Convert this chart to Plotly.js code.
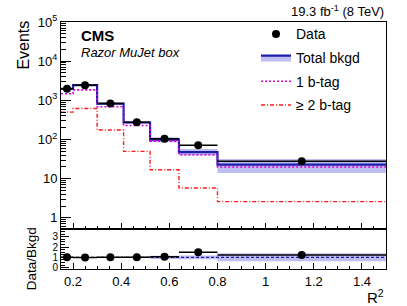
<!DOCTYPE html>
<html><head><meta charset="utf-8">
<script src="https://cdn.plot.ly/plotly-3.0.1.min.js"></script>
<style>html,body{margin:0;padding:0;background:#fff}#p{width:407px;height:306px}</style>
</head><body><div id="p"></div>
<script>
// R^2 bin edges and centers
const binEdges   = [0.15, 0.2, 0.3, 0.41, 0.52, 0.64, 0.8, 1.5];
const binCenters = [0.175, 0.25, 0.355, 0.465, 0.58, 0.72, 1.15];
const binHalfW   = [0.025, 0.05, 0.055, 0.055, 0.06, 0.08, 0.35];
// Events per bin
const dataVals  = [1990, 2430, 830, 277, 105, 72, 28];
const dataErr   = [45, 49, 29, 17, 10, 8.5, 5.3];
const bkgdVals  = [1960, 2440, 830, 272, 100, 48, 23];
const bkgdErr   = [60, 80, 30, 16, 15, 9, 9];
const oneBtag   = [1480, 1850, 690, 228, 91, 41, 20];
const twoBtag   = [500, 620, 175, 50, 17, 5.8, 2.6];
// Data / Bkgd ratio
const ratioVals    = [1.0, 0.99, 1.0, 1.01, 1.05, 1.5, 1.22];
const ratioErr     = [0.02, 0.02, 0.035, 0.06, 0.1, 0.18, 0.23];
const ratioBandErr = [0.03, 0.03, 0.04, 0.06, 0.15, 0.19, 0.39];
const ratioRef     = [1, 1, 1, 1, 1, 1, 1];
// axis ticks
const yTickVals = [1, 10, 100, 1000, 10000, 100000];
const yTickText = ['1', '10', '10<sup>2</sup>', '10<sup>3</sup>', '10<sup>4</sup>', '10<sup>5</sup>'];
const xTickVals = [0.2, 0.4, 0.6, 0.8, 1.0, 1.2, 1.4];
const xTickText = ['0.2', '0.4', '0.6', '0.8', '1', '1.2', '1.4'];
const rTickVals = [0, 1, 2, 3];

const step = a => a.concat([a[a.length - 1]]);
const lo = (v, e) => v.map((x, i) => x - e[i]);
const hi = (v, e) => v.map((x, i) => x + e[i]);

const minorLog = [];
for (let d = 0; d < 5; d++) for (let k = 2; k <= 9; k++) minorLog.push(k * Math.pow(10, d));
minorLog.push(0.6, 0.7, 0.8, 0.9);

const BAND = 'rgba(190,190,245,1)';
const BLUE = '#1e1ea8';
const FONT = 'Liberation Sans, Arial, Helvetica, sans-serif';

const traces = [
  // main pane
  {x: binEdges, y: step(lo(bkgdVals, bkgdErr)), xaxis: 'x2', yaxis: 'y', mode: 'lines',
   line: {shape: 'hv', width: 0}, showlegend: false, hoverinfo: 'skip', legendgroup: 'b'},
  {x: binEdges, y: step(bkgdVals), xaxis: 'x2', yaxis: 'y', mode: 'lines', name: 'Total bkgd',
   line: {shape: 'hv', width: 2.2, color: BLUE}, fill: 'tonexty', fillcolor: BAND, legendrank: 2, legendgroup: 'b'},
  {x: binEdges, y: step(hi(bkgdVals, bkgdErr)), xaxis: 'x2', yaxis: 'y', mode: 'lines',
   line: {shape: 'hv', width: 0}, fill: 'tonexty', fillcolor: BAND, showlegend: false, hoverinfo: 'skip', legendgroup: 'b'},
  {x: binEdges, y: step(oneBtag), xaxis: 'x2', yaxis: 'y', mode: 'lines', name: '1 b-tag',
   line: {shape: 'hv', width: 1.6, color: '#e000e0', dash: '2px,2px'}, legendrank: 3, legendgroup: 'c'},
  {x: binEdges, y: step(twoBtag), xaxis: 'x2', yaxis: 'y', mode: 'lines', name: '\u2265 2 b-tag',
   line: {shape: 'hv', width: 1.4, color: '#ff1a1a', dash: '4px,2px,1px,2px'}, legendrank: 4, legendgroup: 'd'},
  {x: binCenters, y: dataVals, xaxis: 'x2', yaxis: 'y', mode: 'markers', name: 'Data',
   marker: {color: '#000', size: 8}, legendgroup: 'a',
   error_x: {type: 'data', array: binHalfW, color: '#000', thickness: 1.5, width: 0},
   error_y: {type: 'data', array: dataErr, color: '#000', thickness: 1.5, width: 0}, legendrank: 1},
  // ratio pane
  {x: binEdges, y: step(lo(ratioRef, ratioBandErr)), xaxis: 'x', yaxis: 'y2', mode: 'lines',
   line: {shape: 'hv', width: 0}, showlegend: false, hoverinfo: 'skip'},
  {x: binEdges, y: step(hi(ratioRef, ratioBandErr)), xaxis: 'x', yaxis: 'y2', mode: 'lines',
   line: {shape: 'hv', width: 0}, fill: 'tonexty', fillcolor: BAND, showlegend: false, hoverinfo: 'skip'},
  {x: binEdges, y: step(ratioRef), xaxis: 'x', yaxis: 'y2', mode: 'lines',
   line: {shape: 'hv', width: 1.2, color: BLUE, dash: '3px,2px'}, showlegend: false},
  {x: binCenters, y: ratioVals, xaxis: 'x', yaxis: 'y2', mode: 'markers',
   marker: {color: '#000', size: 8}, showlegend: false,
   error_x: {type: 'data', array: binHalfW, color: '#000', thickness: 1.5, width: 0},
   error_y: {type: 'data', array: ratioErr, color: '#000', thickness: 1.5, width: 0}}
];

const axCommon = {showline: true, linecolor: '#000', linewidth: 1, mirror: true, zeroline: false,
  showgrid: false, ticks: 'inside', tickcolor: '#000', tickfont: {family: FONT, size: 13, color: '#000'}};

const layout = {
  width: 407, height: 306,
  margin: {l: 61, r: 21, t: 22, b: 37},
  paper_bgcolor: '#fff', plot_bgcolor: '#fff',
  font: {family: FONT, color: '#000'},
  showlegend: true,
  legend: {x: 0.6, y: 1.015, xanchor: 'left', yanchor: 'top', bgcolor: 'rgba(0,0,0,0)',
    font: {family: FONT, size: 14}, traceorder: 'grouped', itemwidth: 30, tracegroupgap: 2.5},
  xaxis: Object.assign({}, axCommon, {domain: [0, 1], anchor: 'y2', range: [0.15, 1.5],
    tickmode: 'array', tickvals: xTickVals, ticktext: xTickText, ticklen: 6,
    minor: {ticks: 'inside', dtick: 0.05, tick0: 0, ticklen: 3, tickcolor: '#000'}}),
  xaxis2: Object.assign({}, axCommon, {domain: [0, 1], anchor: 'y', matches: 'x', range: [0.15, 1.5],
    tickmode: 'array', tickvals: xTickVals, showticklabels: false, ticklen: 6,
    minor: {ticks: 'inside', dtick: 0.05, tick0: 0, ticklen: 3, tickcolor: '#000'}}),
  yaxis: Object.assign({}, axCommon, {domain: [0.16, 1], anchor: 'x2', type: 'log', range: [-0.295, 5.0],
    tickmode: 'array', tickvals: yTickVals, ticktext: yTickText, ticklen: 10,
    minor: {ticks: 'inside', tickmode: 'array', tickvals: minorLog, ticklen: 5, tickcolor: '#000'}}),
  yaxis2: Object.assign({}, axCommon, {domain: [0, 0.16], anchor: 'x', range: [-0.13, 3.7],
    tickmode: 'array', tickvals: rTickVals, ticklen: 8, tickfont: {family: FONT, size: 10, color: '#000'},
    minor: {ticks: 'inside', dtick: 0.25, tick0: 0, ticklen: 4, tickcolor: '#000'}}),
  annotations: [
    {text: '<b>CMS</b>', xref: 'paper', yref: 'paper', x: 0.055, y: 0.947, xanchor: 'left', yanchor: 'middle',
     showarrow: false, font: {family: FONT, size: 15}},
    {text: '<i>Razor MuJet box</i>', xref: 'paper', yref: 'paper', x: 0.055, y: 0.877, xanchor: 'left', yanchor: 'middle',
     showarrow: false, font: {family: FONT, size: 13}},
    {text: '19.3 fb<sup>-1</sup> (8 TeV)', xref: 'paper', yref: 'paper', x: 1, y: 1.045, xanchor: 'right', yanchor: 'middle',
     showarrow: false, font: {family: FONT, size: 13}},
    {text: 'R<sup>2</sup>', xref: 'paper', yref: 'paper', x: 1, y: -0.11, xanchor: 'right', yanchor: 'middle',
     showarrow: false, font: {family: FONT, size: 15}},
    {text: 'Events', xref: 'paper', yref: 'paper', x: -0.115, y: 0.907, xanchor: 'center', yanchor: 'middle',
     textangle: -90, showarrow: false, font: {family: FONT, size: 16}},
    {text: 'Data/Bkgd', xref: 'paper', yref: 'paper', x: -0.092, y: 0.04, xanchor: 'center', yanchor: 'middle',
     textangle: -90, showarrow: false, font: {family: FONT, size: 13.5}}
  ]
};

Plotly.newPlot('p', traces, layout, {staticPlot: true, displayModeBar: false});
</script></body></html>
